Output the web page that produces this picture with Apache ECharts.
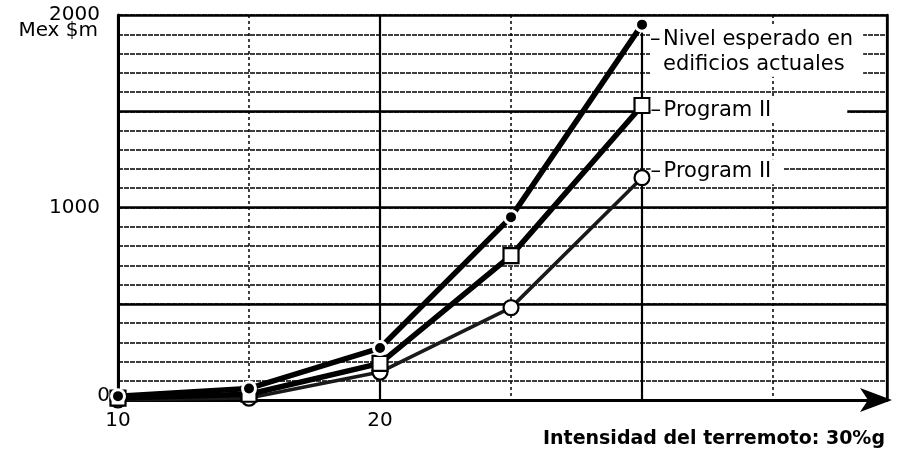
<!DOCTYPE html>
<html>
<head>
<meta charset="utf-8">
<script src="https://cdn.jsdelivr.net/npm/echarts@6/dist/echarts.min.js"></script>
<style>
    html, body {margin: 0; padding: 0; background: #fff;}
    #main {width: 897px; height: 454px;}
</style>
</head>
<body>
<div id="main"></div>
<script>
    // intensidad (%g) y pérdidas (Mex $m)
    var xVals = [10, 15, 20, 25, 30];
    var nivelVals = [20, 60, 270, 950, 1950];
    var progSquareVals = [10, 30, 190, 750, 1530];
    var progCircleVals = [0, 10, 145, 480, 1155];
    var xLabels = [10, 20];
    var yLabels = [0, 1000, 2000];

    var FONT = '"DejaVu Sans", sans-serif';

    function pts(vals) {
        return xVals.map(function (x, i) {
            return [x, vals[i]];
        });
    }

    function withEndLabel(vals, label) {
        var d = pts(vals);
        var last = d.length - 1;
        d[last] = {value: d[last], label: label};
        return d;
    }

    function endLabel(text, dy, padRight) {
        return {
            show: true, position: 'right', distance: 0, offset: [0, dy],
            formatter: text,
            backgroundColor: '#fff', padding: [0, padRight, 0, 0],
            color: '#000', fontFamily: FONT, fontSize: 21,
            rich: {
                d: {fontFamily: FONT, fontSize: 21, width: 13, align: 'left', color: '#000'},
                s: {width: 13},
                t: {fontFamily: FONT, fontSize: 21, lineHeight: 25, color: '#000'}
            }
        };
    }

    var chart = echarts.init(document.getElementById('main'));
    chart.setOption({
        animation: false,
        grid: {left: 118, right: 10, top: 15, bottom: 54},
        xAxis: [
            {
                type: 'value', min: 10, max: 39.35, interval: 5,
                name: 'Intensidad del terremoto: 30%g', nameLocation: 'end', nameGap: -2,
                nameTextStyle: {
                    fontFamily: FONT, fontSize: 19, fontWeight: 'bold', color: '#000',
                    align: 'right', verticalAlign: 'top', padding: [30, 0, 0, 0]
                },
                axisLine: {
                    show: true, lineStyle: {color: '#000', width: 3},
                    symbol: ['none', 'arrow'], symbolSize: [18, 32], symbolOffset: [0, 5]
                },
                axisTick: {show: false},
                axisLabel: {
                    margin: 11, fontFamily: FONT, fontSize: 20, color: '#000',
                    formatter: function (v) {
                        return xLabels.indexOf(v) >= 0 ? String(v) : '';
                    }
                },
                splitLine: {show: true, lineStyle: {color: '#000', width: 1.5, type: [3, 3]}}
            },
            {
                type: 'value', min: 10, max: 39.35, interval: 10, position: 'top',
                axisLine: {show: false}, axisTick: {show: false}, axisLabel: {show: false},
                splitLine: {show: true, lineStyle: {color: '#000', width: 2.2}}
            }
        ],
        yAxis: [
            {
                type: 'value', min: 0, max: 2000, interval: 100,
                axisLine: {show: true, lineStyle: {color: '#000', width: 3}},
                axisTick: {show: false},
                axisLabel: {
                    margin: 8, fontFamily: FONT, fontSize: 20, color: '#000',
                    formatter: function (v) {
                        if (yLabels.indexOf(v) < 0) return '';
                        return v === 0 ? '{z|0}' : '{a|' + v + '}';
                    },
                    rich: {
                        a: {fontFamily: FONT, fontSize: 20, color: '#000', padding: [0, 10, 0, 0]},
                        z: {fontFamily: FONT, fontSize: 20, color: '#000', padding: [0, 0, 8, 0]}
                    }
                },
                splitLine: {show: true, lineStyle: {color: '#000', width: 1.6, type: [5, 1]}}
            },
            {
                type: 'value', min: 0, max: 2000, interval: 500, position: 'right',
                axisLine: {show: true, lineStyle: {color: '#000', width: 2.5}},
                axisTick: {show: false}, axisLabel: {show: false},
                splitLine: {show: true, lineStyle: {color: '#000', width: 2.6}}
            }
        ],
        graphic: [
            {
                type: 'text', right: 897 - 98, top: 21,
                style: {text: 'Mex $m', font: '20px "DejaVu Sans", sans-serif', fill: '#000'}
            }
        ],
        series: [
            {
                name: 'Nivel esperado en edificios actuales', type: 'line',
                xAxisIndex: 0, yAxisIndex: 0,
                symbol: 'circle', symbolSize: 13,
                itemStyle: {color: '#000', borderColor: '#fff', borderWidth: 3},
                lineStyle: {color: '#000', width: 5.5},
                data: withEndLabel(nivelVals,
                    endLabel('{d|–}{t|Nivel esperado en}\n{s|}{t|edificios actuales}', 27, 10)),
                z: 5
            },
            {
                name: 'Program II', type: 'line',
                xAxisIndex: 0, yAxisIndex: 0,
                symbol: 'rect', symbolSize: 15,
                itemStyle: {color: '#fff', borderColor: '#000', borderWidth: 2.2},
                lineStyle: {color: '#000', width: 5.5},
                data: withEndLabel(progSquareVals, endLabel('{d|–}{t|Program II}', 5, 76)),
                z: 4
            },
            {
                name: 'Program II ', type: 'line',
                xAxisIndex: 0, yAxisIndex: 0,
                symbol: 'circle', symbolSize: 15,
                itemStyle: {color: '#fff', borderColor: '#000', borderWidth: 2.2},
                lineStyle: {color: '#1a1a1a', width: 3.6},
                data: withEndLabel(progCircleVals, endLabel('{d|–}{t|Program II}', -6, 12)),
                z: 3
            }
        ]
    });
</script>
</body>
</html>
